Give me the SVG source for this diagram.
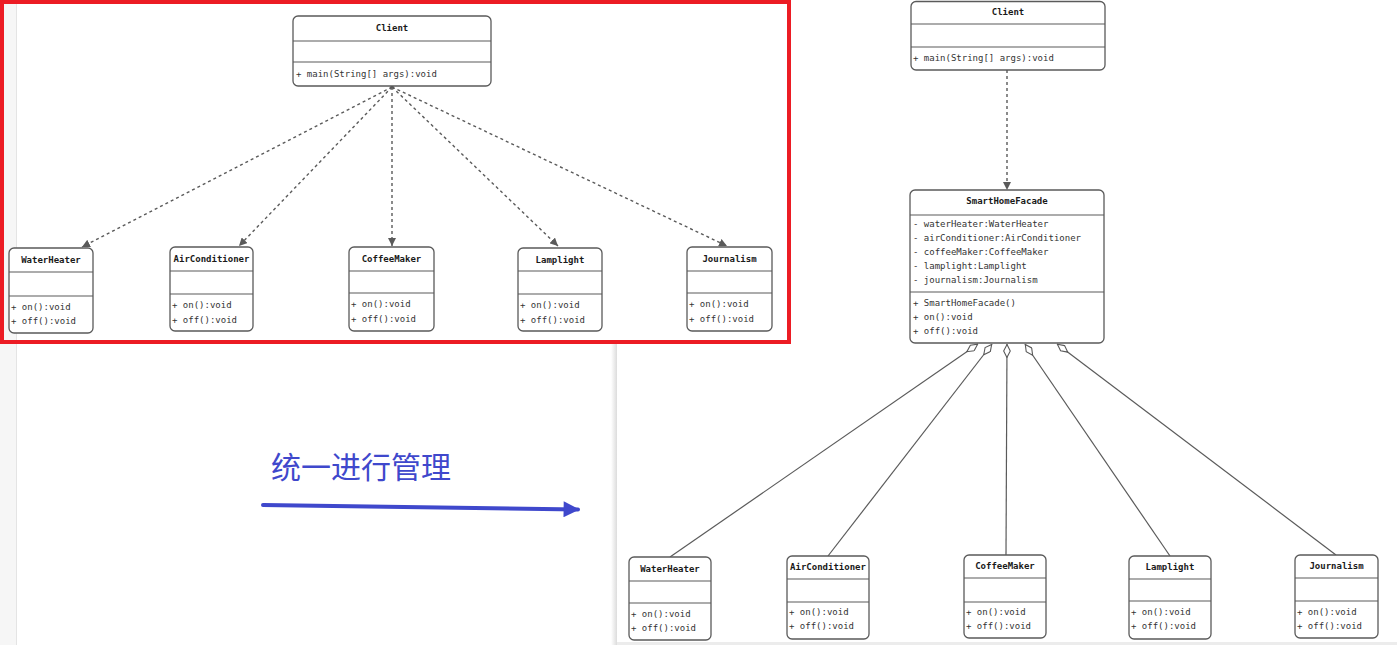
<svg xmlns="http://www.w3.org/2000/svg" width="1397" height="645" viewBox="0 0 1397 645">
<style>
.box{fill:#fff;stroke:#5a5a5a;stroke-width:1.3}
.sep{stroke:#5a5a5a;stroke-width:1.2}
.t{font-family:"DejaVu Sans Mono","Liberation Mono",monospace;font-size:9px;fill:#333}
.h{font-family:"DejaVu Sans Mono","Liberation Mono",monospace;font-size:9px;fill:#1a1a1a;font-weight:bold;text-anchor:middle}
.dash{fill:none;stroke:#5a5a5a;stroke-width:1.4;stroke-dasharray:3 3}
.agg{fill:none;stroke:#5a5a5a;stroke-width:1.2}
.cn{font-family:"Noto Sans CJK SC","Noto Sans",sans-serif;font-size:30px;fill:#3f48cc}
</style>
<defs>
<marker id="arr" viewBox="0 0 10 10" refX="10" refY="5" markerWidth="8" markerHeight="8" markerUnits="userSpaceOnUse" orient="auto">
<path d="M0,0 L10,5 L0,10 z" fill="#5a5a5a"/>
</marker>
<marker id="dia" viewBox="0 0 14 8" refX="0" refY="4" markerWidth="14" markerHeight="8" markerUnits="userSpaceOnUse" orient="auto">
<path d="M0.5,4 L7,0.7 L13.5,4 L7,7.3 z" fill="#fff" stroke="#5a5a5a" stroke-width="1.1"/>
</marker>
<marker id="blue" viewBox="0 0 10 10" refX="9" refY="5" markerWidth="20" markerHeight="16" markerUnits="userSpaceOnUse" orient="auto">
<path d="M0,0 L10,5 L0,10 z" fill="#3f48cc"/>
</marker>
<linearGradient id="shadow" x1="0" x2="1" y1="0" y2="0">
<stop offset="0" stop-color="#ffffff"/>
<stop offset="1" stop-color="#dcdcdc"/>
</linearGradient>
</defs>

<!-- background -->
<rect x="0" y="0" width="1397" height="645" fill="#ffffff"/>
<rect x="0" y="0" width="16" height="645" fill="#f6f6f6"/>
<rect x="16" y="0" width="1" height="645" fill="#e4e4e4"/>
<rect x="611" y="344" width="6" height="301" fill="url(#shadow)"/>
<rect x="617" y="642" width="780" height="3" fill="#ececec"/>

<!-- red frame -->
<rect x="2" y="2" width="787" height="340" fill="none" stroke="#ec1c24" stroke-width="4"/>

<!-- connectors -->
<g id="connectors">
<circle cx="392" cy="87" r="1.8" fill="#5a5a5a"/>
<line class="dash" x1="392" y1="87" x2="82" y2="247" marker-end="url(#arr)"/>
<line class="dash" x1="392" y1="87" x2="239" y2="246" marker-end="url(#arr)"/>
<line class="dash" x1="392" y1="87" x2="392" y2="246" marker-end="url(#arr)"/>
<line class="dash" x1="392" y1="87" x2="558" y2="246" marker-end="url(#arr)"/>
<line class="dash" x1="392" y1="87" x2="727" y2="246" marker-end="url(#arr)"/>

<line class="dash" x1="1007" y1="70" x2="1007" y2="190" marker-end="url(#arr)"/>

<line class="agg" x1="978" y1="344" x2="670" y2="557" marker-start="url(#dia)"/>
<line class="agg" x1="992" y1="344" x2="828" y2="556" marker-start="url(#dia)"/>
<line class="agg" x1="1007" y1="344" x2="1006" y2="555" marker-start="url(#dia)"/>
<line class="agg" x1="1025" y1="344" x2="1170" y2="556" marker-start="url(#dia)"/>
<line class="agg" x1="1057" y1="344" x2="1336" y2="555" marker-start="url(#dia)"/>

<line x1="263" y1="505" x2="578" y2="509.5" stroke="#3f48cc" stroke-width="4" stroke-linecap="round" marker-end="url(#blue)"/>
</g>

<text class="cn" x="271" y="478">统一进行管理</text>

<!-- left side -->
<g id="client-left">
<rect class="box" x="293" y="16" width="198" height="70" rx="5"/>
<line class="sep" x1="293" y1="41" x2="491" y2="41"/>
<line class="sep" x1="293" y1="62" x2="491" y2="62"/>
<text class="h" x="392" y="31">Client</text>
<text class="t" x="296" y="77">+ main(String[] args):void</text>
</g>

<g id="waterheater-left">
<rect class="box" x="9" y="248" width="84" height="85" rx="5"/>
<line class="sep" x1="9" y1="272" x2="93" y2="272"/>
<line class="sep" x1="9" y1="296" x2="93" y2="296"/>
<text class="h" x="51" y="263">WaterHeater</text>
<text class="t" x="11" y="310">+ on():void</text>
<text class="t" x="11" y="324">+ off():void</text>
</g>

<g id="airconditioner-left">
<rect class="box" x="170" y="247" width="83" height="84" rx="5"/>
<line class="sep" x1="170" y1="271" x2="253" y2="271"/>
<line class="sep" x1="170" y1="294" x2="253" y2="294"/>
<text class="h" x="211.5" y="262">AirConditioner</text>
<text class="t" x="172" y="308">+ on():void</text>
<text class="t" x="172" y="323">+ off():void</text>
</g>

<g id="coffeemaker-left">
<rect class="box" x="349" y="247" width="85" height="84" rx="5"/>
<line class="sep" x1="349" y1="271" x2="434" y2="271"/>
<line class="sep" x1="349" y1="293" x2="434" y2="293"/>
<text class="h" x="391.5" y="262">CoffeeMaker</text>
<text class="t" x="351" y="307">+ on():void</text>
<text class="t" x="351" y="322">+ off():void</text>
</g>

<g id="lamplight-left">
<rect class="box" x="518" y="248" width="84" height="83" rx="5"/>
<line class="sep" x1="518" y1="271" x2="602" y2="271"/>
<line class="sep" x1="518" y1="294" x2="602" y2="294"/>
<text class="h" x="560" y="263">Lamplight</text>
<text class="t" x="520" y="308">+ on():void</text>
<text class="t" x="520" y="323">+ off():void</text>
</g>

<g id="journalism-left">
<rect class="box" x="687" y="247" width="85" height="84" rx="5"/>
<line class="sep" x1="687" y1="271" x2="772" y2="271"/>
<line class="sep" x1="687" y1="293" x2="772" y2="293"/>
<text class="h" x="729.5" y="262">Journalism</text>
<text class="t" x="689" y="307">+ on():void</text>
<text class="t" x="689" y="322">+ off():void</text>
</g>

<!-- right side -->
<g id="client-right">
<rect class="box" x="911" y="1.5" width="194" height="68.5" rx="5"/>
<line class="sep" x1="911" y1="24" x2="1105" y2="24"/>
<line class="sep" x1="911" y1="47" x2="1105" y2="47"/>
<text class="h" x="1008" y="15">Client</text>
<text class="t" x="913" y="61">+ main(String[] args):void</text>
</g>

<g id="smarthomefacade">
<rect class="box" x="910" y="190" width="194" height="153" rx="5"/>
<line class="sep" x1="910" y1="215" x2="1104" y2="215"/>
<line class="sep" x1="910" y1="292" x2="1104" y2="292"/>
<text class="h" x="1007" y="204">SmartHomeFacade</text>
<text class="t" x="913" y="227">- waterHeater:WaterHeater</text>
<text class="t" x="913" y="241">- airConditioner:AirConditioner</text>
<text class="t" x="913" y="255">- coffeeMaker:CoffeeMaker</text>
<text class="t" x="913" y="269">- lamplight:Lamplight</text>
<text class="t" x="913" y="283">- journalism:Journalism</text>
<text class="t" x="913" y="306">+ SmartHomeFacade()</text>
<text class="t" x="913" y="320">+ on():void</text>
<text class="t" x="913" y="334">+ off():void</text>
</g>

<g id="waterheater-right">
<rect class="box" x="629" y="557" width="82" height="83" rx="5"/>
<line class="sep" x1="629" y1="581" x2="711" y2="581"/>
<line class="sep" x1="629" y1="603" x2="711" y2="603"/>
<text class="h" x="670" y="572">WaterHeater</text>
<text class="t" x="631" y="617">+ on():void</text>
<text class="t" x="631" y="631">+ off():void</text>
</g>

<g id="airconditioner-right">
<rect class="box" x="787" y="556" width="82" height="83" rx="5"/>
<line class="sep" x1="787" y1="579" x2="869" y2="579"/>
<line class="sep" x1="787" y1="602" x2="869" y2="602"/>
<text class="h" x="828" y="570">AirConditioner</text>
<text class="t" x="789" y="615">+ on():void</text>
<text class="t" x="789" y="629">+ off():void</text>
</g>

<g id="coffeemaker-right">
<rect class="box" x="964" y="555" width="82" height="83" rx="5"/>
<line class="sep" x1="964" y1="578" x2="1046" y2="578"/>
<line class="sep" x1="964" y1="602" x2="1046" y2="602"/>
<text class="h" x="1005" y="569">CoffeeMaker</text>
<text class="t" x="966" y="615">+ on():void</text>
<text class="t" x="966" y="629">+ off():void</text>
</g>

<g id="lamplight-right">
<rect class="box" x="1129" y="556" width="82" height="83" rx="5"/>
<line class="sep" x1="1129" y1="579" x2="1211" y2="579"/>
<line class="sep" x1="1129" y1="601" x2="1211" y2="601"/>
<text class="h" x="1170" y="570">Lamplight</text>
<text class="t" x="1131" y="615">+ on():void</text>
<text class="t" x="1131" y="629">+ off():void</text>
</g>

<g id="journalism-right">
<rect class="box" x="1295" y="555" width="83" height="83" rx="5"/>
<line class="sep" x1="1295" y1="578" x2="1378" y2="578"/>
<line class="sep" x1="1295" y1="601" x2="1378" y2="601"/>
<text class="h" x="1336.5" y="569">Journalism</text>
<text class="t" x="1297" y="615">+ on():void</text>
<text class="t" x="1297" y="629">+ off():void</text>
</g>
</svg>
